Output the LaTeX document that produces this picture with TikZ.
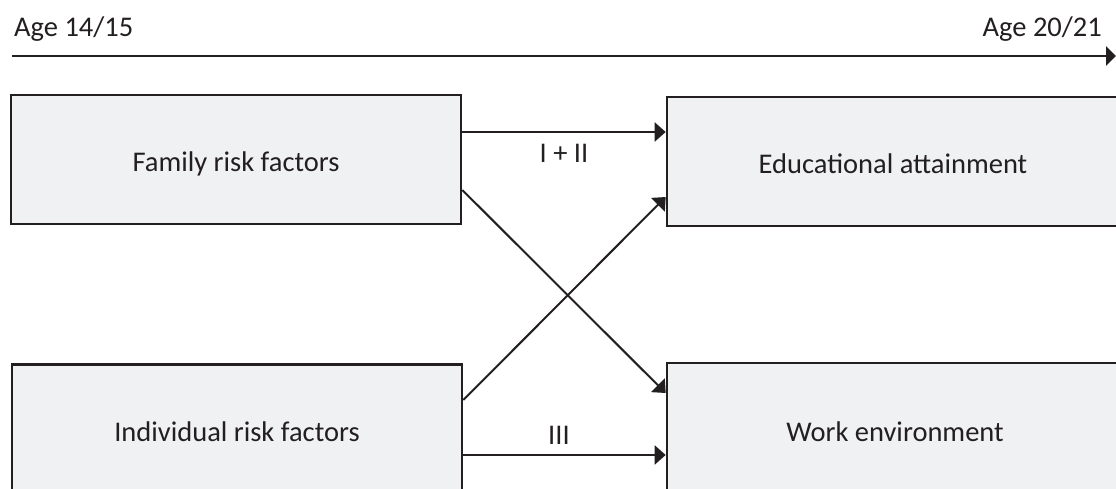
\documentclass[tikz,border=0pt]{standalone}
\usepackage{fontspec}
\setmainfont{Carlito}
\usetikzlibrary{arrows.meta}
\definecolor{ink}{HTML}{231F20}
\definecolor{boxfill}{HTML}{F0F1F3}
\tikzset{
  box/.style={draw=ink, line width=2.6pt, fill=boxfill, text=ink,
    minimum width=450pt, minimum height=129pt, inner sep=0pt,
    text height=24pt, text depth=0pt,
    font=\fontsize{28.5}{34}\selectfont},
  conn/.style={draw=ink, line width=2pt, -{Triangle[length=11pt,width=19pt]}},
  timeline/.style={draw=ink, line width=2.6pt, -{Triangle[length=10pt,width=19pt]}},
  lbl/.style={text=ink, inner sep=0pt, font=\fontsize{28.5}{34}\selectfont}
}
\begin{document}
\begin{tikzpicture}[x=1pt, y=-1pt]
\useasboundingbox (0,0) rectangle (1116,489);

% time axis
\coordinate (t0) at (12,56);
\coordinate (t1) at (1116,56);
\draw[timeline] (t0) -- (t1);
\node[lbl, anchor=base west] (agestart) at (14,37) {Age 14/15};
\node[lbl, anchor=base east] (ageend) at (1102,37) {Age 20/21};

% boxes
\node[box] (fam) at (236,159.5) {Family risk factors};
\node[box] (ind) at (237,429) {Individual risk factors};
\node[box, minimum width=452pt] (edu) at (893,161.5) {Educational attainment};
\node[box, minimum width=456pt, minimum height=132pt] (work) at (895,429) {Work environment};

% paths
\draw[conn] ([yshift=27.5pt]fam.east) -- ([yshift=29.5pt]edu.west);
\draw[conn] ([yshift=-30.5pt]fam.east) -- ([yshift=36pt]work.west);
\draw[conn] ([yshift=29pt]ind.east) -- ([yshift=-35.5pt]edu.west);
\draw[conn] ([yshift=-26pt]ind.east) -- ([yshift=-26pt]work.west);

% path labels
\node[lbl, anchor=base] (l12) at (564,163) {I + II};
\node[lbl, anchor=base] (l3) at (559,444) {III};
\end{tikzpicture}
\end{document}
